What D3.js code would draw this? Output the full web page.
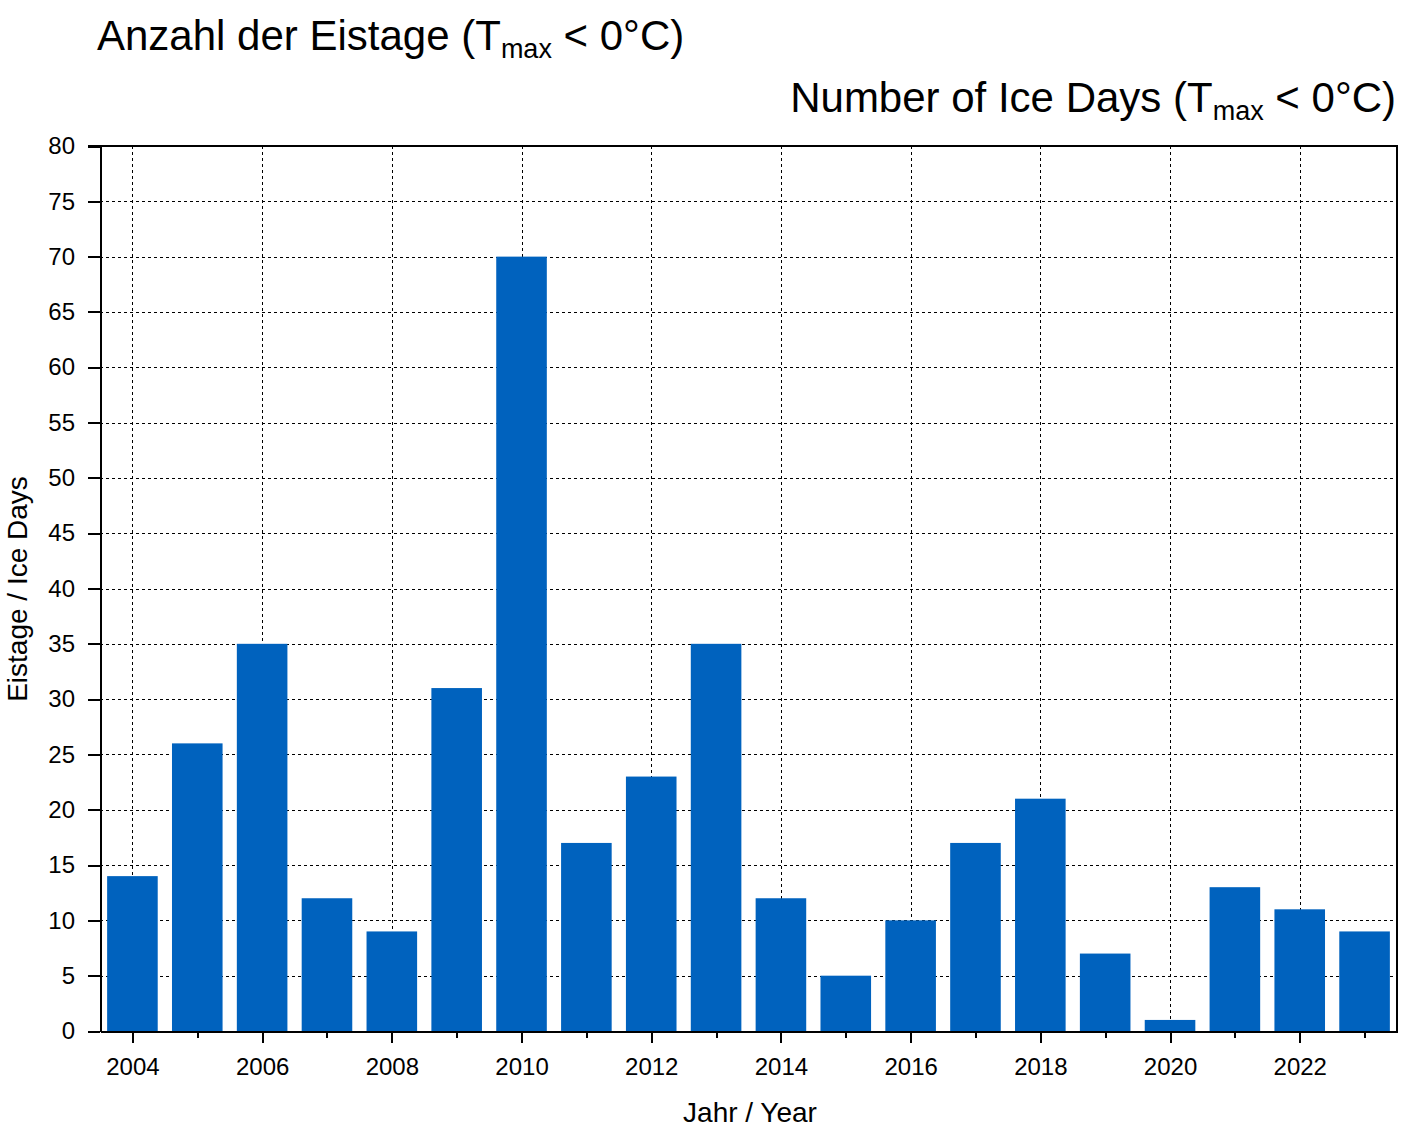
<!DOCTYPE html>
<html lang="de">
<head>
<meta charset="utf-8">
<title>Anzahl der Eistage</title>
<script src="https://cdn.jsdelivr.net/npm/d3@7"></script>
<style>
  body { margin: 0; background: #fff; }
  svg text { font-family: "Liberation Sans", Arial, sans-serif; fill: #000; }
  .grid line { stroke: #000; stroke-width: 1; stroke-dasharray: 3,3; shape-rendering: crispEdges; }
  .axis path, .axis line { stroke: #000; stroke-width: 2; shape-rendering: crispEdges; }
  .axis text { font-size: 24px; font-family: "Liberation Sans", Arial, sans-serif; }
</style>
</head>
<body>
<script>
var years = [2004, 2005, 2006, 2007, 2008, 2009, 2010, 2011, 2012, 2013,
             2014, 2015, 2016, 2017, 2018, 2019, 2020, 2021, 2022, 2023];
var iceDays = [14, 26, 35, 12, 9, 31, 70, 17, 23, 35,
               12, 5, 10, 17, 21, 7, 1, 13, 11, 9];
var yTicks = [0, 5, 10, 15, 20, 25, 30, 35, 40, 45, 50, 55, 60, 65, 70, 75, 80];
var xLabelYears = [2004, 2006, 2008, 2010, 2012, 2014, 2016, 2018, 2020, 2022];

var W = 1404, H = 1134;
var padL = 100, padR = 1397, padT = 146, padB = 1031;

var svg = d3.select("body").append("svg")
    .attr("width", W)
    .attr("height", H);

var x = d3.scaleLinear().domain([2003.5, 2023.5]).range([padL, padR]);
var y = d3.scaleLinear().domain([0, 80]).range([padB, padT]);
var barW = (x(2005) - x(2004)) * 0.78;

// grid
var grid = svg.append("g").attr("class", "grid");
grid.selectAll("line.h")
    .data(yTicks.filter(function(d) { return d > 0 && d < 80; }))
    .enter().append("line")
    .attr("x1", padL).attr("x2", padR)
    .attr("y1", function(d) { return Math.round(y(d)) + 0.5; })
    .attr("y2", function(d) { return Math.round(y(d)) + 0.5; });
grid.selectAll("line.v")
    .data(xLabelYears)
    .enter().append("line")
    .attr("y1", padT).attr("y2", padB)
    .attr("x1", function(d) { return Math.round(x(d)) + 0.5; })
    .attr("x2", function(d) { return Math.round(x(d)) + 0.5; });

// bars
svg.selectAll("rect.bar")
    .data(iceDays)
    .enter().append("rect")
    .attr("class", "bar")
    .attr("x", function(d, i) { return x(years[i]) - barW / 2; })
    .attr("y", function(d) { return y(d); })
    .attr("width", barW)
    .attr("height", function(d) { return y(0) - y(d) + 1; })
    .attr("fill", "#0062BE");

// frame top/right
svg.append("line").attr("x1", padL - 12).attr("x2", padR + 1).attr("y1", padT).attr("y2", padT)
    .attr("stroke", "#000").attr("stroke-width", 2);
svg.append("line").attr("x1", padR).attr("x2", padR).attr("y1", padT).attr("y2", padB)
    .attr("stroke", "#000").attr("stroke-width", 2);

// y axis
var yAxis = d3.axisLeft(y).tickValues(yTicks).tickSize(12).tickSizeOuter(0).tickPadding(13);
svg.append("g").attr("class", "axis")
    .attr("transform", "translate(" + padL + ",0)")
    .call(yAxis);

// x axis, minor ticks first
var xMinor = d3.axisBottom(x).tickValues(years).tickSize(7).tickSizeOuter(0).tickFormat("");
svg.append("g").attr("class", "axis")
    .attr("transform", "translate(0," + padB + ")")
    .call(xMinor);
var xAxis = d3.axisBottom(x).tickValues(xLabelYears).tickSize(12).tickSizeOuter(0).tickPadding(15)
    .tickFormat(d3.format("d"));
svg.append("g").attr("class", "axis")
    .attr("transform", "translate(0," + padB + ")")
    .call(xAxis);

// titles
var t1 = svg.append("text").attr("x", 97).attr("y", 50).style("font-size", "42px");
t1.append("tspan").text("Anzahl der Eistage (T");
t1.append("tspan").attr("dy", 8).style("font-size", "27px").text("max");
t1.append("tspan").attr("dy", -8).text(" < 0°C)");

var t2 = svg.append("text").attr("x", 1396).attr("y", 112)
    .attr("text-anchor", "end").style("font-size", "42px");
t2.append("tspan").text("Number of Ice Days (T");
t2.append("tspan").attr("dy", 8).style("font-size", "27px").text("max");
t2.append("tspan").attr("dy", -8).text(" < 0°C)");

// axis titles
svg.append("text")
    .attr("x", 750).attr("y", 1122)
    .attr("text-anchor", "middle")
    .style("font-size", "28px")
    .text("Jahr / Year");

svg.append("text")
    .attr("transform", "translate(27,589) rotate(-90)")
    .attr("text-anchor", "middle")
    .style("font-size", "28px")
    .text("Eistage / Ice Days");
</script>
</body>
</html>
